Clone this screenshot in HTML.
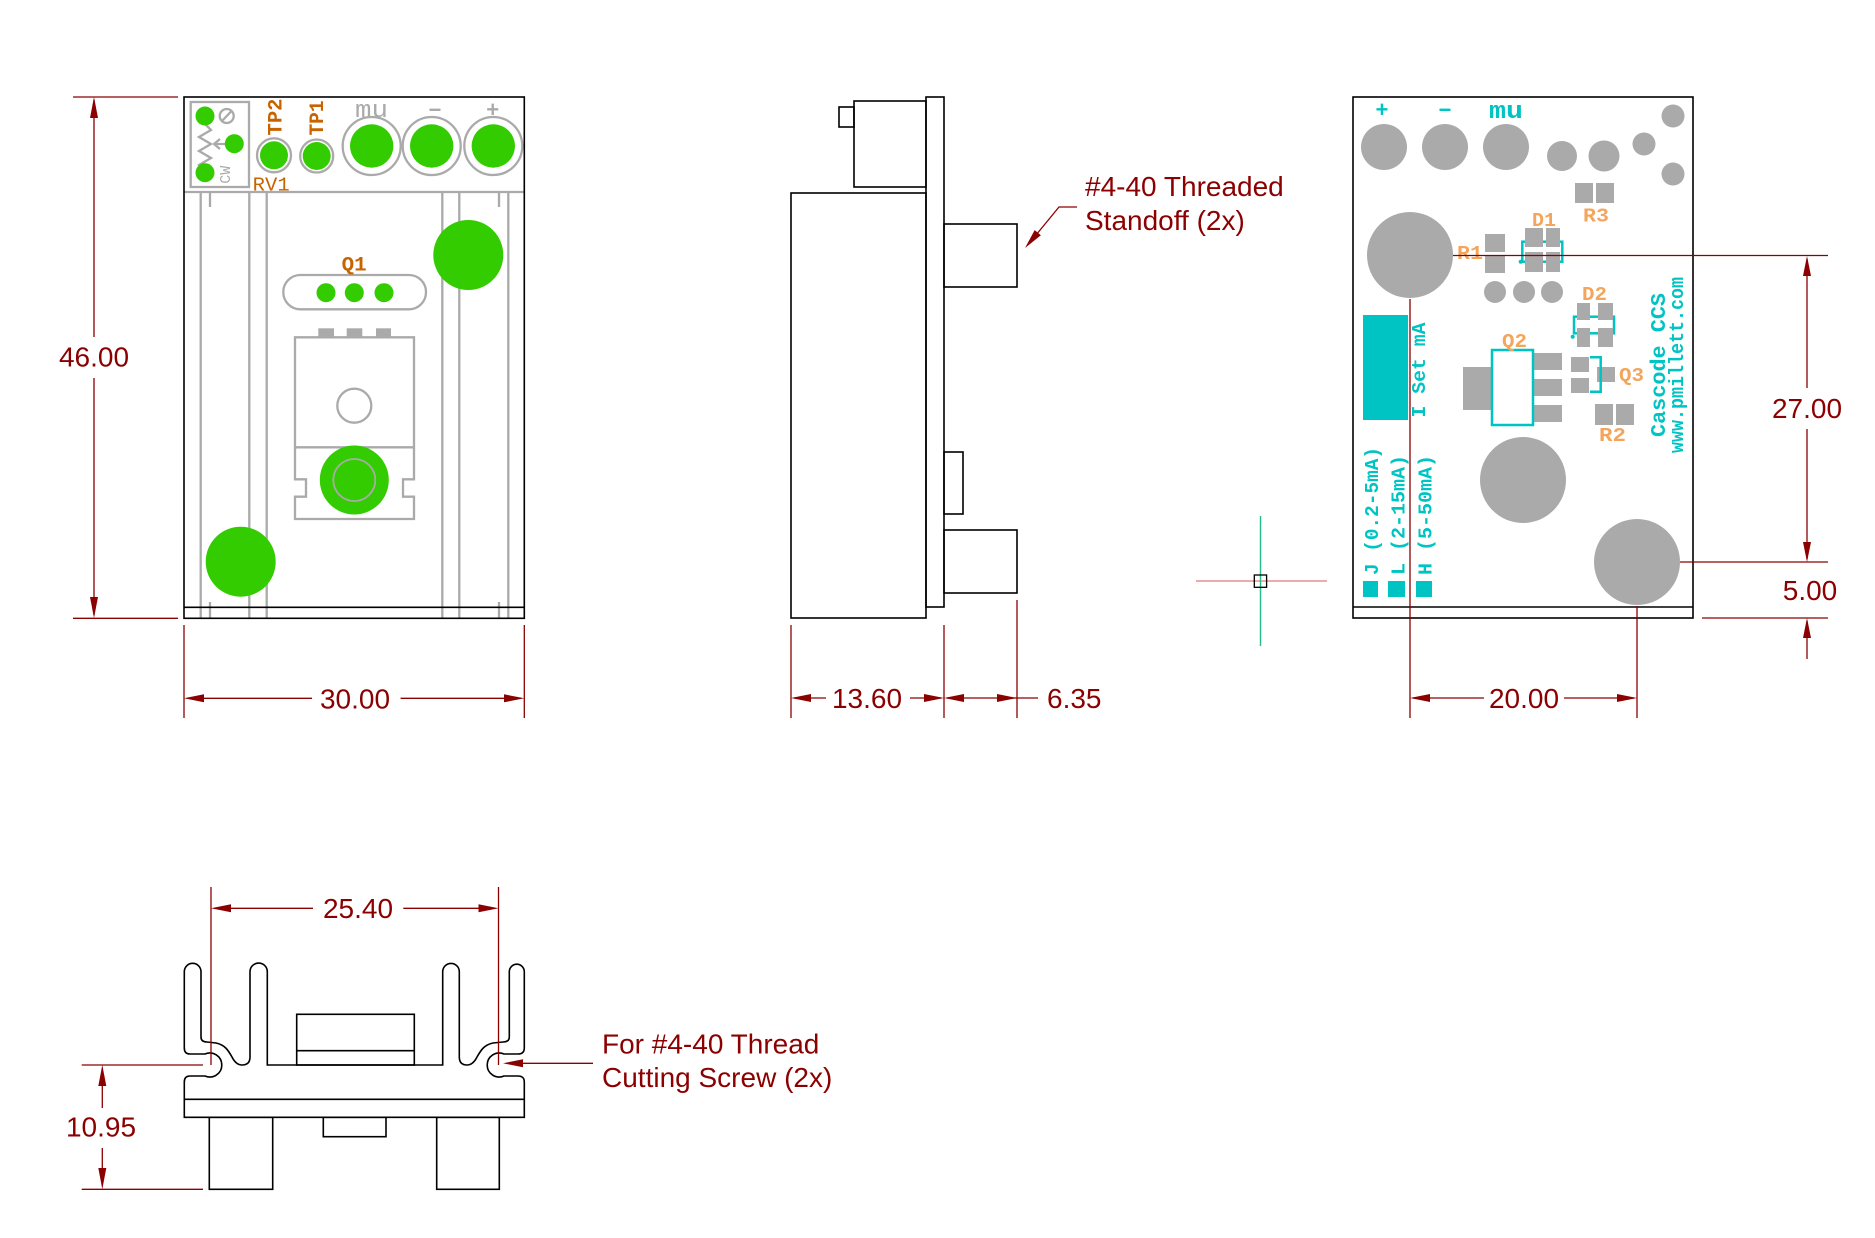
<!DOCTYPE html>
<html><head><meta charset="utf-8"><style>
html,body{margin:0;padding:0;background:#fff;}
svg{display:block;}
.dim{font-family:"Liberation Sans",Arial,sans-serif;font-size:28px;fill:#8b0000;}
.mono{font-family:"Liberation Mono","DejaVu Sans Mono",monospace;font-weight:bold;}
</style></head><body>
<svg width="1875" height="1238" viewBox="0 0 1875 1238" xmlns="http://www.w3.org/2000/svg">
<rect width="1875" height="1238" fill="#fff"/>

<!-- ============ LEFT BOARD (front) ============ -->
<g fill="none" stroke="#aaa" stroke-width="2.3">
  <line x1="184" y1="192" x2="524" y2="192"/>
  <line x1="200.7" y1="192" x2="200.7" y2="618"/>
  <line x1="249.3" y1="192" x2="249.3" y2="618"/>
  <line x1="266.7" y1="192" x2="266.7" y2="618"/>
  <line x1="442.3" y1="192" x2="442.3" y2="618"/>
  <line x1="459.3" y1="192" x2="459.3" y2="618"/>
  <line x1="508.3" y1="192" x2="508.3" y2="618"/>
  <line x1="210" y1="192" x2="210" y2="207"/>
  <line x1="499" y1="192" x2="499" y2="207"/>
  <line x1="210" y1="602" x2="210" y2="618"/>
  <line x1="499" y1="602" x2="499" y2="618"/>
  <!-- pot box -->
  <rect x="190.7" y="102" width="58.3" height="85"/>
  <polyline points="205,124 211,130 199,137 211,144 199,151 211,158 199,165 205,170"/>
  <line x1="234" y1="144" x2="214" y2="144"/>
  <polyline points="220,139 214,144 220,149"/>
  <circle cx="226.7" cy="116" r="7"/>
  <line x1="222" y1="121" x2="231.5" y2="111"/>
  <!-- test point rings -->
  <circle cx="274" cy="155.3" r="17"/>
  <circle cx="316.7" cy="156" r="16.5"/>
  <circle cx="371.7" cy="146" r="29"/>
  <circle cx="431.7" cy="146" r="29"/>
  <circle cx="493.3" cy="146" r="29"/>
  <!-- Q1 outline -->
  <rect x="283.3" y="275" width="142.7" height="34.3" rx="17" ry="17"/>
  <!-- TO-220 -->
  <path d="M295,337.3 H414 V479.3 H403 V496.7 H414 V519 H295 V496.7 H306 V479.3 H295 Z"/>
  <line x1="295" y1="447.3" x2="414" y2="447.3"/>
  <circle cx="354.3" cy="405.7" r="17"/>
</g>
<g fill="#aaa">
  <rect x="318.3" y="328.3" width="15.7" height="9"/>
  <rect x="346.7" y="328.3" width="15.6" height="9"/>
  <rect x="376" y="328.3" width="15" height="9"/>
</g>
<g fill="#33cc00">
  <circle cx="205" cy="116" r="9.5"/>
  <circle cx="234.3" cy="143.7" r="9.5"/>
  <circle cx="205" cy="172.7" r="9.5"/>
  <circle cx="274" cy="155.3" r="14"/>
  <circle cx="316.7" cy="156" r="14"/>
  <circle cx="371.7" cy="146" r="21.7"/>
  <circle cx="431.7" cy="146" r="21.7"/>
  <circle cx="493.3" cy="146" r="21.7"/>
  <circle cx="468.3" cy="255" r="35"/>
  <circle cx="240.7" cy="561.7" r="35"/>
  <circle cx="326" cy="292.7" r="9.5"/>
  <circle cx="354.3" cy="292.7" r="9.5"/>
  <circle cx="384" cy="292.7" r="9.5"/>
  <circle cx="354.3" cy="480" r="34.5"/>
</g>
<circle cx="354.3" cy="480" r="21" fill="none" stroke="#aaa" stroke-width="1.8"/>
<!-- board outline -->
<g fill="none" stroke="#000" stroke-width="1.6">
  <rect x="184" y="97" width="340.3" height="521.3"/>
  <line x1="184" y1="607.3" x2="524.3" y2="607.3"/>
</g>
<!-- left board labels -->
<g class="mono" fill="#c86400">
  <text transform="translate(281.7,117) rotate(-90)" text-anchor="middle" font-size="20" textLength="37" lengthAdjust="spacingAndGlyphs">TP2</text>
  <text transform="translate(323,118) rotate(-90)" text-anchor="middle" font-size="20" textLength="35" lengthAdjust="spacingAndGlyphs">TP1</text>
  <text x="252.7" y="190.3" font-size="19" font-weight="normal" textLength="37" lengthAdjust="spacingAndGlyphs">RV1</text>
  <text x="341.7" y="270.7" font-size="20" textLength="25" lengthAdjust="spacingAndGlyphs">Q1</text>
</g>
<g class="mono" fill="#aaa">
  <text transform="translate(230,174.7) rotate(-90)" text-anchor="middle" font-size="15" font-weight="normal">CW</text>
  <text x="355" y="117" font-size="24" font-weight="normal" textLength="33" lengthAdjust="spacingAndGlyphs">mu</text>
  <text x="435" y="116" font-size="24" text-anchor="middle" textLength="15" lengthAdjust="spacingAndGlyphs">–</text>
  <text x="492.7" y="117" font-size="22" text-anchor="middle">+</text>
</g>

<!-- left dims -->
<g stroke="#8b0000" stroke-width="1.3" fill="none">
  <line x1="73" y1="97" x2="178" y2="97"/>
  <line x1="73" y1="618.3" x2="178" y2="618.3"/>
  <line x1="94" y1="100" x2="94" y2="337"/>
  <line x1="94" y1="378" x2="94" y2="615"/>
  <line x1="184" y1="625" x2="184" y2="718"/>
  <line x1="524.3" y1="625" x2="524.3" y2="718"/>
  <line x1="187" y1="698.3" x2="312" y2="698.3"/>
  <line x1="400.6" y1="698.3" x2="521" y2="698.3"/>
</g>
<g fill="#8b0000">
  <polygon points="94,97 90,118 98,118"/>
  <polygon points="94,618 90,597 98,597"/>
  <polygon points="184,698.3 204,694.3 204,702.3"/>
  <polygon points="524.3,698.3 504,694.3 504,702.3"/>
</g>
<text class="dim" x="94" y="366.7" text-anchor="middle">46.00</text>
<text class="dim" x="355" y="708.3" text-anchor="middle">30.00</text>

<!-- ============ MIDDLE (side view) ============ -->
<g fill="none" stroke="#000" stroke-width="1.6">
  <rect x="839" y="107" width="15" height="20"/>
  <rect x="854" y="101" width="72" height="86"/>
  <rect x="926" y="97" width="18" height="510"/>
  <rect x="791" y="193" width="135" height="425"/>
  <rect x="944" y="224" width="73" height="63"/>
  <rect x="944" y="452" width="19" height="62"/>
  <rect x="944" y="530" width="73" height="63"/>
</g>
<g stroke="#8b0000" stroke-width="1.3" fill="none">
  <polyline points="1077,207 1059,207 1036,235"/>
  <line x1="791" y1="625" x2="791" y2="718"/>
  <line x1="944" y1="625" x2="944" y2="718"/>
  <line x1="1017" y1="600" x2="1017" y2="718"/>
  <line x1="794" y1="698" x2="826" y2="698"/>
  <line x1="910" y1="698" x2="941" y2="698"/>
  <line x1="947" y1="698" x2="1038" y2="698"/>
</g>
<g fill="#8b0000">
  <polygon points="1025,248 1040.9,235.2 1034.7,230.1"/>
  <polygon points="791,698 811,694 811,702"/>
  <polygon points="944,698 924,694 924,702"/>
  <polygon points="944,698 964,694 964,702"/>
  <polygon points="1017,698 997,694 997,702"/>
</g>
<text class="dim" x="1085" y="196">#4-40 Threaded</text>
<text class="dim" x="1085" y="230">Standoff (2x)</text>
<text class="dim" x="867" y="708" text-anchor="middle">13.60</text>
<text class="dim" x="1047" y="708">6.35</text>

<!-- crosshair -->
<line x1="1196" y1="581" x2="1327" y2="581" stroke="#e07a7a" stroke-width="1.2"/>
<line x1="1260.5" y1="516" x2="1260.5" y2="646" stroke="#22c088" stroke-width="1.4"/>
<rect x="1254.3" y="575" width="12.3" height="12.3" fill="none" stroke="#000" stroke-width="1.3"/>

<!-- ============ RIGHT BOARD (back) ============ -->
<g fill="#aaa">
  <circle cx="1384" cy="147" r="23"/>
  <circle cx="1445" cy="147" r="23"/>
  <circle cx="1506" cy="147" r="23"/>
  <circle cx="1562" cy="156" r="15"/>
  <circle cx="1604" cy="156" r="15.5"/>
  <circle cx="1644" cy="144" r="11.5"/>
  <circle cx="1673" cy="116" r="11.5"/>
  <circle cx="1673" cy="174" r="11.5"/>
  <circle cx="1410" cy="255" r="43"/>
  <circle cx="1523" cy="480" r="43"/>
  <circle cx="1637" cy="562" r="43"/>
  <circle cx="1495" cy="292" r="11"/>
  <circle cx="1524" cy="292" r="11"/>
  <circle cx="1552" cy="292" r="11"/>
  <!-- R3 -->
  <rect x="1575" y="183" width="18" height="20"/>
  <rect x="1596" y="183" width="18" height="20"/>
  <!-- R1 -->
  <rect x="1485" y="234" width="20" height="18"/>
  <rect x="1485" y="256" width="20" height="17"/>
  <!-- R2 -->
  <rect x="1595" y="404" width="18" height="21"/>
  <rect x="1616" y="404" width="18" height="21"/>
  <!-- Q2 -->
  <rect x="1463" y="367" width="29" height="43"/>
  <rect x="1533" y="353" width="29" height="17"/>
  <rect x="1533" y="379" width="29" height="17"/>
  <rect x="1533" y="405" width="29" height="17"/>
  <!-- Q3 -->
  <rect x="1571" y="357" width="18" height="15"/>
  <rect x="1571" y="378" width="18" height="15"/>
  <rect x="1597" y="367" width="18" height="15"/>
</g>
<!-- D1/D2 brackets under pads -->
<g fill="none" stroke="#00c4c4" stroke-width="2.5">
  <rect x="1522.3" y="241.7" width="40" height="20"/>
  <rect x="1574" y="316.7" width="40" height="16.6"/>
  <rect x="1492" y="350" width="41" height="75"/>
  <path d="M1590,357.3 H1600.7 V391.7 H1590"/>
</g>
<circle cx="1520.7" cy="261.7" r="2" fill="#00c4c4"/>
<circle cx="1572.7" cy="336.7" r="2" fill="#00c4c4"/>
<g fill="#aaa">
  <rect x="1525" y="228" width="18" height="19"/>
  <rect x="1546" y="228" width="14" height="19"/>
  <rect x="1525" y="252" width="18" height="20"/>
  <rect x="1546" y="252" width="14" height="20"/>
  <rect x="1577" y="303" width="13" height="17"/>
  <rect x="1598" y="303" width="15" height="17"/>
  <rect x="1577" y="328" width="13" height="19"/>
  <rect x="1598" y="328" width="15" height="19"/>
</g>
<g fill="#00c4c4">
  <rect x="1363" y="315" width="45" height="105"/>
  <rect x="1363" y="581" width="15" height="16"/>
  <rect x="1388" y="581" width="17" height="16"/>
  <rect x="1416" y="581" width="16" height="16"/>
</g>
<g class="mono" fill="#00c4c4">
  <text x="1382" y="117" font-size="22" text-anchor="middle">+</text>
  <text x="1445" y="116" font-size="24" text-anchor="middle" textLength="15" lengthAdjust="spacingAndGlyphs">–</text>
  <text x="1489" y="118" font-size="24" textLength="34" lengthAdjust="spacingAndGlyphs">mu</text>
  <text transform="translate(1425,370) rotate(-90)" text-anchor="middle" font-size="19" textLength="95" lengthAdjust="spacingAndGlyphs">I Set mA</text>
  <text transform="translate(1665,365) rotate(-90)" text-anchor="middle" font-size="21" textLength="144" lengthAdjust="spacingAndGlyphs">Cascode CCS</text>
  <text transform="translate(1683,365) rotate(-90)" text-anchor="middle" font-size="20" textLength="176" lengthAdjust="spacingAndGlyphs">www.pmillett.com</text>
  <text transform="translate(1378,511) rotate(-90)" text-anchor="middle" font-size="19" textLength="128" lengthAdjust="spacingAndGlyphs">J (0.2-5mA)</text>
  <text transform="translate(1404.5,515) rotate(-90)" text-anchor="middle" font-size="19" textLength="120" lengthAdjust="spacingAndGlyphs">L (2-15mA)</text>
  <text transform="translate(1431.5,515) rotate(-90)" text-anchor="middle" font-size="19" textLength="120" lengthAdjust="spacingAndGlyphs">H (5-50mA)</text>
</g>
<g class="mono" fill="#f4a55c" font-size="19">
  <text x="1583" y="221.7" textLength="26" lengthAdjust="spacingAndGlyphs">R3</text>
  <text x="1532" y="226" textLength="24" lengthAdjust="spacingAndGlyphs">D1</text>
  <text x="1457" y="259" textLength="26" lengthAdjust="spacingAndGlyphs">R1</text>
  <text x="1582" y="300" textLength="25" lengthAdjust="spacingAndGlyphs">D2</text>
  <text x="1502" y="347" textLength="25" lengthAdjust="spacingAndGlyphs">Q2</text>
  <text x="1619" y="381" textLength="25" lengthAdjust="spacingAndGlyphs">Q3</text>
  <text x="1599" y="441" textLength="27" lengthAdjust="spacingAndGlyphs">R2</text>
</g>
<g fill="none" stroke="#000" stroke-width="1.6">
  <rect x="1353" y="97" width="340" height="521"/>
  <line x1="1353" y1="607" x2="1693" y2="607"/>
</g>
<!-- right dims -->
<g stroke="#8b0000" stroke-width="1.3" fill="none">
  <line x1="1453" y1="255.5" x2="1828" y2="255.5"/>
  <line x1="1410" y1="299" x2="1410" y2="718"/>
  <line x1="1680" y1="562" x2="1828" y2="562"/>
  <line x1="1637" y1="606" x2="1637" y2="718"/>
  <line x1="1702" y1="618" x2="1828" y2="618"/>
  <line x1="1807" y1="259" x2="1807" y2="388"/>
  <line x1="1807" y1="429" x2="1807" y2="559"/>
  <line x1="1807" y1="621" x2="1807" y2="659"/>
  <line x1="1413" y1="698" x2="1484" y2="698"/>
  <line x1="1564" y1="698" x2="1634" y2="698"/>
</g>
<g fill="#8b0000">
  <polygon points="1807,256 1803,276 1811,276"/>
  <polygon points="1807,562 1803,542 1811,542"/>
  <polygon points="1807,618 1803,638 1811,638"/>
  <polygon points="1410,698 1430,694 1430,702"/>
  <polygon points="1637,698 1617,694 1617,702"/>
</g>
<text class="dim" x="1807" y="418" text-anchor="middle">27.00</text>
<text class="dim" x="1810" y="600" text-anchor="middle">5.00</text>
<text class="dim" x="1524" y="708" text-anchor="middle">20.00</text>

<!-- ============ BOTTOM (heatsink end view) ============ -->
<g fill="none" stroke="#000" stroke-width="1.6">
  <path d="M184.3,1117.3 V1082 Q184.3,1076 190,1076 H205 A12,12 0 1 0 205,1054 H190 Q184.3,1054 184.3,1048 V971.7 A8.35,8.35 0 0 1 201,971.7 V1037 Q201,1042 207,1042 L216,1043 C225,1045 228,1050 232,1057 Q236,1065 242,1065 Q250,1065 250,1057 V971.7 A8.65,8.65 0 0 1 267.3,971.7 V1065 H442.7 V971.7 A8.3,8.3 0 0 1 459.3,971.7 V1057 Q459.3,1065 467,1065 Q473,1065 477,1057 C481,1050 484,1045 493,1043 L503,1042 Q509.3,1042 509.3,1037 V971.7 A7.5,7.5 0 0 1 524.3,971.7 V1048 Q524.3,1054 518,1054 H504 A12,12 0 1 0 504,1076 H518 Q524.3,1076 524.3,1082 V1117.3 Z"/>
  <line x1="184.3" y1="1099.3" x2="524.3" y2="1099.3"/>
  <rect x="296.7" y="1014.3" width="117.6" height="50.7"/>
  <line x1="296.7" y1="1050.7" x2="414.3" y2="1050.7"/>
  <rect x="209.3" y="1117.3" width="63.4" height="72"/>
  <rect x="436.7" y="1117.3" width="62.6" height="72"/>
  <rect x="323.3" y="1117.3" width="62.7" height="19.4"/>
</g>
<g stroke="#8b0000" stroke-width="1.3" fill="none">
  <line x1="211" y1="887" x2="211" y2="1065"/>
  <line x1="498.5" y1="887" x2="498.5" y2="1065"/>
  <line x1="214" y1="908.3" x2="313" y2="908.3"/>
  <line x1="403.3" y1="908.3" x2="495" y2="908.3"/>
  <line x1="81.7" y1="1065" x2="203" y2="1065"/>
  <line x1="81.7" y1="1189.3" x2="203" y2="1189.3"/>
  <line x1="102.3" y1="1068" x2="102.3" y2="1108"/>
  <line x1="102.3" y1="1148" x2="102.3" y2="1186"/>
  <line x1="506" y1="1063.3" x2="593" y2="1063.3"/>
</g>
<g fill="#8b0000">
  <polygon points="211,908.3 231,904.3 231,912.3"/>
  <polygon points="498.5,908.3 478.5,904.3 478.5,912.3"/>
  <polygon points="102.3,1065 98.3,1086 106.3,1086"/>
  <polygon points="102.3,1189.3 98.3,1168 106.3,1168"/>
  <polygon points="503,1063.3 523,1059.3 523,1067.3"/>
</g>
<text class="dim" x="358" y="918" text-anchor="middle">25.40</text>
<text class="dim" x="101" y="1136.7" text-anchor="middle">10.95</text>
<text class="dim" x="602" y="1053.3">For #4-40 Thread</text>
<text class="dim" x="602" y="1087">Cutting Screw (2x)</text>
</svg>
</body></html>
